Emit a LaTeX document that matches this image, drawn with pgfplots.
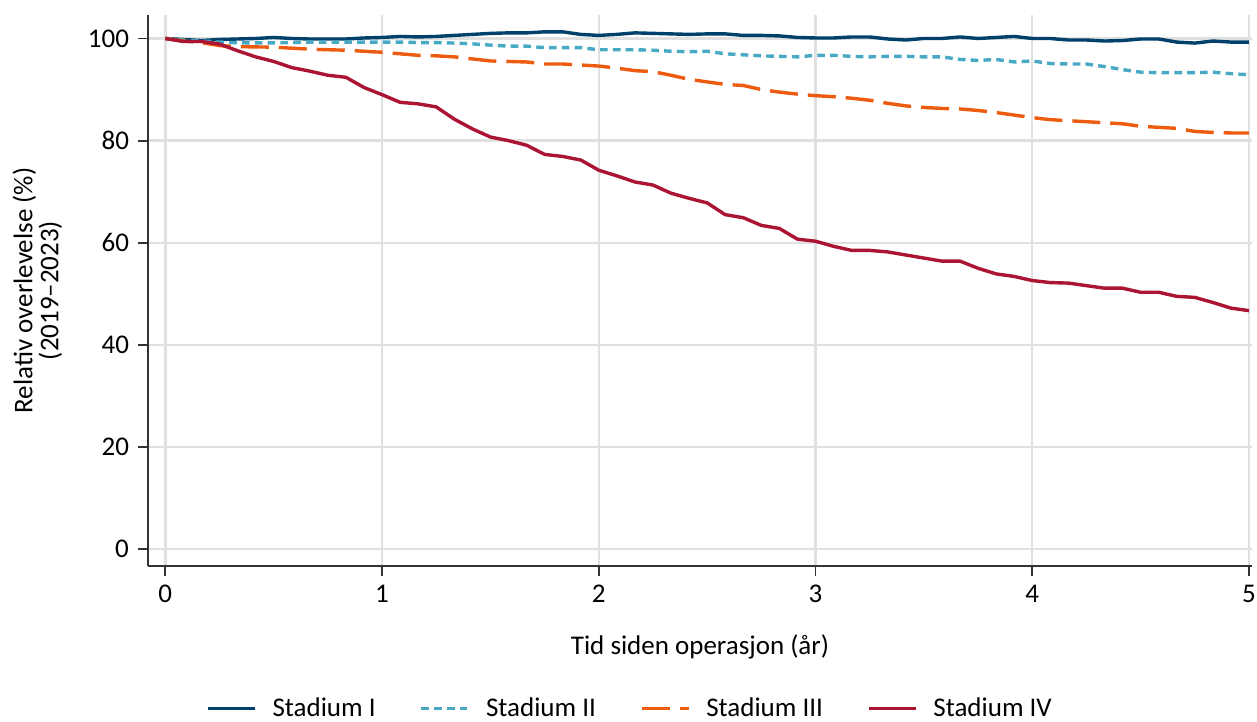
\documentclass[border=0pt]{standalone}
\usepackage{fontspec}
\setmainfont{Carlito}
\usepackage{pgfplots}
\pgfplotsset{compat=1.18}
\usepackage{pgfplotstable}

\definecolor{cI}{RGB}{0,65,107}
\definecolor{cII}{RGB}{71,169,196}
\definecolor{cIII}{RGB}{236,91,14}
\definecolor{cIV}{RGB}{171,21,51}
\definecolor{gridc}{RGB}{224,224,224}
\definecolor{axc}{RGB}{51,51,51}

\pgfplotstableread{
t s1 s2 s3 s4
0.0000 100.0 100.0 100.0 100.0
0.0833 99.8 99.7 99.5 99.4
0.1667 99.6 99.5 99.2 99.4
0.2500 99.8 99.3 98.6 98.9
0.3333 99.9 99.15 98.4 97.6
0.4167 100.0 99.15 98.35 96.4
0.5000 100.2 99.15 98.3 95.5
0.5833 100.0 99.2 98.1 94.3
0.6667 99.9 99.3 97.9 93.6
0.7500 99.9 99.3 97.8 92.8
0.8333 99.9 99.3 97.7 92.4
0.9167 100.1 99.3 97.5 90.4
1.0000 100.2 99.3 97.3 89.0
1.0833 100.4 99.3 97.0 87.5
1.1667 100.3 99.2 96.7 87.2
1.2500 100.4 99.2 96.6 86.6
1.3333 100.6 99.1 96.4 84.2
1.4167 100.8 98.95 96.0 82.3
1.5000 101.0 98.7 95.6 80.7
1.5833 101.1 98.5 95.5 80.0
1.6667 101.1 98.5 95.4 79.1
1.7500 101.3 98.2 95.0 77.3
1.8333 101.3 98.2 95.0 76.9
1.9167 100.8 98.2 94.8 76.2
2.0000 100.6 97.8 94.6 74.2
2.0833 100.8 97.8 94.2 73.1
2.1667 101.1 97.8 93.7 71.9
2.2500 101.0 97.7 93.5 71.3
2.3333 100.9 97.5 92.8 69.7
2.4167 100.8 97.4 92.0 68.7
2.5000 100.9 97.5 91.5 67.8
2.5833 100.9 97.0 91.0 65.5
2.6667 100.6 96.8 90.8 64.9
2.7500 100.6 96.6 90.0 63.4
2.8333 100.5 96.5 89.5 62.8
2.9167 100.2 96.4 89.1 60.7
3.0000 100.1 96.7 88.8 60.3
3.0833 100.1 96.7 88.6 59.3
3.1667 100.3 96.5 88.3 58.5
3.2500 100.3 96.4 87.9 58.5
3.3333 99.9 96.5 87.3 58.2
3.4167 99.7 96.5 86.8 57.6
3.5000 100.0 96.4 86.5 57.0
3.5833 100.0 96.4 86.3 56.4
3.6667 100.3 95.9 86.2 56.4
3.7500 100.0 95.7 85.9 55.0
3.8333 100.2 95.9 85.5 53.9
3.9167 100.4 95.4 85.0 53.4
4.0000 100.0 95.6 84.5 52.6
4.0833 100.0 95.1 84.1 52.2
4.1667 99.7 95.0 83.9 52.1
4.2500 99.7 95.0 83.7 51.6
4.3333 99.5 94.5 83.5 51.1
4.4167 99.6 93.9 83.3 51.1
4.5000 99.9 93.4 82.8 50.3
4.5833 99.9 93.3 82.6 50.3
4.6667 99.3 93.3 82.4 49.5
4.7500 99.1 93.3 81.8 49.3
4.8333 99.5 93.4 81.6 48.3
4.9167 99.3 93.1 81.5 47.2
5.0000 99.3 92.9 81.5 46.7
}\survdata

\begin{document}
\begin{tikzpicture}
\begin{axis}[
  scale only axis,
  width=552pt, height=275.5pt,
  xmin=-0.08, xmax=5.014,
  ymin=-3.3, ymax=104.6,
  axis x line*=bottom, axis y line*=left,
  axis line style={axc, line width=1pt, -},
  xtick={0,1,2,3,4,5},
  ytick={0,20,40,60,80,100},
  tick style={axc, line width=0.9pt},
  tick align=outside,
  major tick length=5pt,
  grid=major,
  major grid style={gridc, line width=1.2pt},
  tick label style={font=\fontsize{13.5}{16}\selectfont, black},
  /pgf/number format/assume math mode=true,
  xticklabel style={yshift=-1pt},
  yticklabel style={xshift=-1pt},
  xlabel={Tid siden operasjon (år)},
  xlabel style={font=\fontsize{13.5}{16}\selectfont, yshift=-9pt},
  ylabel={Relativ overlevelse (\%)\\(2019–2023)},
  ylabel style={font=\fontsize{13.5}{13}\selectfont, align=center, yshift=6pt},
  legend columns=4,
  legend style={draw=none, fill=none, at={(0.4375,-0.259)}, anchor=center,
    font=\fontsize{13.5}{16}\selectfont,
    /tikz/every odd column/.append style={column sep=6pt},
    /tikz/every even column/.append style={column sep=20pt}},
  legend image code/.code={\draw[#1] (0pt,0pt) -- (23.5pt,0pt);},
  every axis plot/.append style={line width=1.7pt, line join=round},
]
\addplot[cI, solid] table[x=t, y=s1] {\survdata};
\addlegendentry{Stadium I}
\addplot[cII, dash pattern=on 3.8pt off 2.6pt] table[x=t, y=s2] {\survdata};
\addlegendentry{Stadium II}
\addplot[cIII, dash pattern=on 14pt off 5pt] table[x=t, y=s3] {\survdata};
\addlegendentry{Stadium III}
\addplot[cIV, solid] table[x=t, y=s4] {\survdata};
\addlegendentry{Stadium IV}
\end{axis}
\pgfresetboundingbox
\path[use as bounding box] ([shift={(-74pt,-78pt)}]current axis.south west) rectangle ([shift={(2.5pt,7.5pt)}]current axis.north east);
\end{tikzpicture}
\end{document}
